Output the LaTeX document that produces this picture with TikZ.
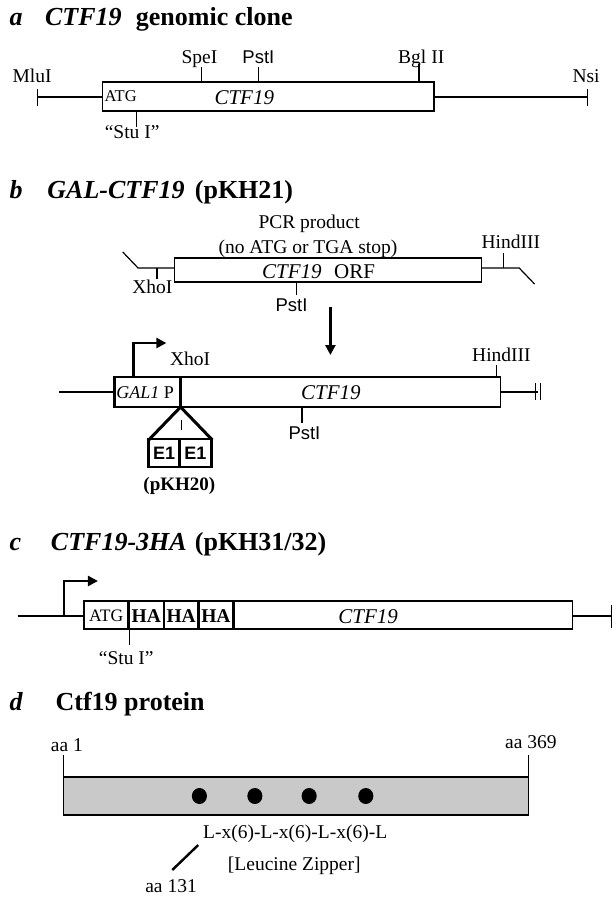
\documentclass[tikz,border=0pt]{standalone}
\usepackage{fontspec}
\setmainfont{Liberation Serif}
\newfontfamily\helv{Liberation Sans}
\usetikzlibrary{arrows.meta}
\definecolor{protgray}{HTML}{C9C9C9}
\begin{document}
\begin{tikzpicture}[x=1.18pt,y=-1pt,
  txt/.style={inner sep=0pt,anchor=base west,font=\fontsize{19.5}{21}\selectfont},
  ctxt/.style={inner sep=0pt,anchor=base,font=\fontsize{19.5}{21}\selectfont},
  gene/.style={inner sep=0pt,anchor=base west,font=\fontsize{21}{23}\selectfont\itshape},
  ttl/.style={inner sep=0pt,anchor=base west,font=\fontsize{26}{28}\selectfont\bfseries},
  ittl/.style={inner sep=0pt,anchor=base west,font=\fontsize{26}{28}\selectfont\bfseries\itshape},
  sans/.style={inner sep=0pt,anchor=base,font=\fontsize{18.5}{20}\selectfont\helv},
  thinl/.style={line width=1.2pt},
  boxl/.style={line width=1.5pt},
  thickl/.style={line width=2.6pt},
  promarrow/.style={line width=2.4pt,-{Triangle[length=10pt,width=10pt]}},
]
\useasboundingbox[fill=white] (0,0) rectangle (522.03,900);

% ---------------- a ----------------
\node[ittl] (ta1) at (8,25) {a};
\node[ittl] (ta2) at (38,25) {CTF19};
\node[ttl] (ta3) at (115,25) {genomic clone};

\draw[thinl] (32,97) -- (87,97);
\draw[thinl] (368,97) -- (498,97);
\draw[boxl] (87,82) rectangle (368,111);
\draw[thinl] (32,89) -- (32,106);
\draw[thinl] (498,89) -- (498,106);
\node[txt] (mlu) at (10.5,82) {MluI};
\node[txt] (nsi) at (485,82) {Nsi};
\draw[thinl] (171,67) -- (171,82);
\node[ctxt] (spe) at (169,63) {SpeI};
\draw[thinl] (219,67) -- (219,82);
\node[sans] (psta) at (219,63) {PstI};
\draw[thinl] (355,64) -- (355,82);
\node[ctxt] (bgl) at (357,63) {Bgl II};
\node[inner sep=0pt,anchor=base west,font=\fontsize{16.5}{18}\selectfont] (atga) at (88.5,101) {ATG};
\node[gene,anchor=base] (ctfa) at (207,104) {CTF19};
\draw[thinl] (116,111) -- (116,127);
\node[ctxt] (stua) at (112,138) {“Stu I”};

% ---------------- b ----------------
\node[ittl] (tb1) at (8,198) {b};
\node[ittl] (tb2) at (40,198) {GAL-CTF19};
\node[ttl] (tb3) at (165,198) {(pKH21)};

\node[ctxt] (pcr1) at (262,228) {PCR product};
\node[ctxt] (pcr2) at (261,253) {(no ATG or TGA stop)};
\draw[boxl] (148,258) rectangle (408,282);
\draw[thinl] (104,252) -- (117,268) -- (148,268);
\draw[thinl] (133,268) -- (133,279);
\node[txt] (xho1) at (112,293) {XhoI};
\draw[thinl] (408,268) -- (440,268) -- (453,284);
\draw[thinl] (427,253) -- (427,268);
\node[txt] (hind1) at (408,248) {HindIII};
\node[gene] (ctfb) at (222,278) {CTF19};
\node[txt,font=\fontsize{21}{23}\selectfont] (orf) at (283,278) {ORF};
\draw[thinl] (251,282) -- (251,295);
\node[sans] (pstb) at (247,311) {PstI};

\coordinate (arrtop) at (280,307);
\coordinate (arrbot) at (280,355);
\draw[promarrow] (arrtop) -- (arrbot);

\draw[boxl] (153,377) rectangle (424,407);
\draw[thickl] (97,377) rectangle (153,407);
\draw[thinl] (50,392) -- (97,392);
\draw[thinl] (424,392) -- (456,392);
\draw[thinl] (454,383) -- (454,400);
\draw[thinl] (458,383) -- (458,400);
\coordinate (galp) at (113,377);
\coordinate (galtip) at (141,343);
\draw[promarrow] (galp) |- (galtip);
\node[txt] (xho2) at (144,365) {XhoI};
\node[txt] (hind2) at (400,361) {HindIII};
\draw[thinl] (421,365) -- (421,377);
\node[inner sep=0pt,anchor=base west,font=\fontsize{18}{20}\selectfont] (gal) at (98.5,398) {\textit{GAL1} P};
\node[gene] (ctfb2) at (255,399) {CTF19};
\draw[thinl] (256,407) -- (256,423);
\node[sans] (pstc) at (258,439) {PstI};

\draw[line width=3pt,line join=miter] (126,440) -- (153,407) -- (180,440);
\draw[thinl] (154,420) -- (154,430);
\draw[thickl] (126,439) rectangle (152,467);
\draw[thickl] (152,439) rectangle (179,467);
\node[inner sep=0pt,font=\fontsize{18}{20}\selectfont\helv\bfseries] (e1a) at (139,453) {E1};
\node[inner sep=0pt,font=\fontsize{18}{20}\selectfont\helv\bfseries] (e1b) at (165.5,453) {E1};
\node[inner sep=0pt,anchor=base,font=\fontsize{19}{21}\selectfont\bfseries] (pkh20) at (152,490) {(pKH20)};

% ---------------- c ----------------
\node[ittl] (tc1) at (8,550) {c};
\node[ittl] (tc2) at (43,550) {CTF19-3HA};
\node[ttl] (tc3) at (165,550) {(pKH31/32)};

\coordinate (cprom) at (54,616);
\coordinate (ctip) at (83,581);
\draw[promarrow] (cprom) |- (ctip);
\draw[thinl] (15,616) -- (71,616);
\draw[boxl] (71,601) rectangle (109,629);
\node[inner sep=0pt,anchor=base,font=\fontsize{17.5}{19}\selectfont] (atgc) at (90,621) {ATG};
\draw[boxl] (198,601) rectangle (485,629);
\draw[thickl] (109,601) rectangle (139,629);
\draw[thickl] (139,601) rectangle (168,629);
\draw[thickl] (168,601) rectangle (198,629);
\node[inner sep=0pt,anchor=base,font=\fontsize{19.5}{21}\selectfont\bfseries] (ha1) at (124,622) {HA};
\node[inner sep=0pt,anchor=base,font=\fontsize{19.5}{21}\selectfont\bfseries] (ha2) at (153.5,622) {HA};
\node[inner sep=0pt,anchor=base,font=\fontsize{19.5}{21}\selectfont\bfseries] (ha3) at (183,622) {HA};
\node[gene,anchor=base] (ctfc) at (312,623) {CTF19};
\draw[thinl] (485,616) -- (518,616);
\draw[thinl] (518,605) -- (518,628);
\draw[thinl] (110,629) -- (110,645);
\node[ctxt] (stuc) at (107,664) {“Stu I”};

% ---------------- d ----------------
\node[ittl] (td1) at (8,710) {d};
\node[ttl] (td2) at (47,710) {Ctf19 protein};

\node[txt] (aa1) at (43,751) {aa 1};
\node[txt] (aa369) at (428,748) {aa 369};
\draw[boxl,fill=protgray] (54,777) rectangle (448,815);
\draw[thinl] (54,755) -- (54,777);
\draw[thinl] (448,755) -- (448,777);
\foreach \x in {169,216,262,310} \fill (\x,796) ellipse [x radius=6.4, y radius=8];
\node[txt] (lz1) at (172,838) {L-x(6)-L-x(6)-L-x(6)-L};
\node[txt] (lz2) at (193,870) {[Leucine Zipper]};
\coordinate (d1) at (168,845);
\coordinate (d2) at (146,870);
\draw[line width=2.4pt] (d1) -- (d2);
\node[txt] (aa131) at (123,892) {aa 131};
\end{tikzpicture}
\end{document}
